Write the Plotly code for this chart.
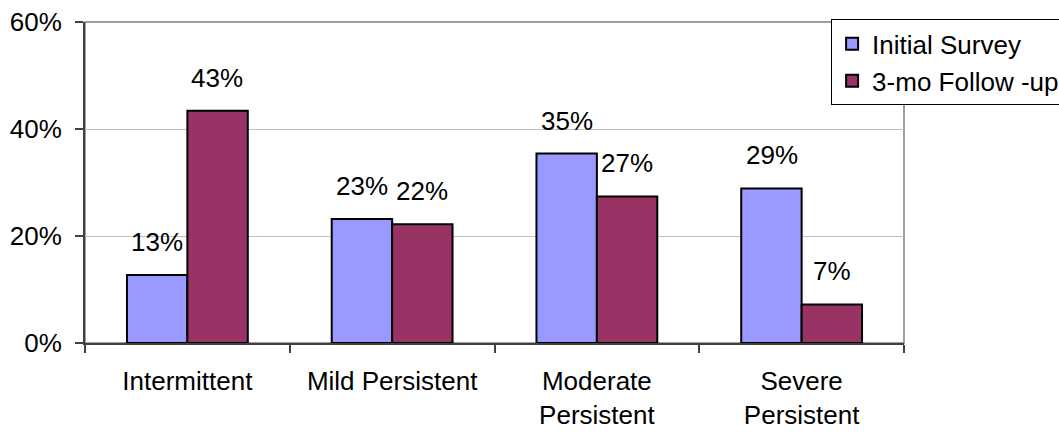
import plotly.graph_objects as go

categories = ["Intermittent", "Mild Persistent", "Moderate<br>Persistent", "Severe<br>Persistent"]
initial_survey = [12.7, 23.2, 35.4, 28.9]
follow_up = [43.4, 22.2, 27.4, 7.2]
series_names = ["Initial Survey", "3-mo Follow -up"]
y_ticks = [0, 20, 40, 60]
y_tick_labels = ["0%", "20%", "40%", "60%"]

FONT = "Liberation Sans, Arial, sans-serif"
FS = 26

fig = go.Figure()
fig.add_trace(go.Bar(x=categories, y=initial_survey, name=series_names[0],
                     marker=dict(color="#9999FF", line=dict(color="black", width=2))))
fig.add_trace(go.Bar(x=categories, y=follow_up, name=series_names[1],
                     marker=dict(color="#993366", line=dict(color="black", width=2))))

for vals, shift in ((initial_survey, -30), (follow_up, 30)):
    for c, v in zip(categories, vals):
        fig.add_annotation(x=c, y=v, text=f"{round(v)}%", showarrow=False,
                           xshift=shift, yshift=33, yanchor="middle",
                           font=dict(family=FONT, size=FS, color="black"))

fig.add_shape(type="rect", xref="paper", yref="paper", x0=0, y0=0, x1=1, y1=1,
              line=dict(color="#808080", width=1.5), layer="below")

fig.update_layout(
    width=1059, height=432,
    margin=dict(l=85, r=155, t=22, b=89, autoexpand=False),
    paper_bgcolor="white", plot_bgcolor="white",
    font=dict(family=FONT, size=FS, color="black"),
    barmode="group", bargap=0.41, bargroupgap=0,
    showlegend=True,
    legend=dict(x=0.911, xanchor="left", y=1.008, yanchor="top",
                bgcolor="white", bordercolor="#000000", borderwidth=1,
                font=dict(family=FONT, size=FS), itemwidth=30),
    xaxis=dict(showline=True, linecolor="#404040", linewidth=2,
               ticks="outside", tickson="boundaries", ticklen=8, tickcolor="#404040",
               tickwidth=1.5, showgrid=False, tickfont=dict(size=FS),
               ticklabelstandoff=14),
    yaxis=dict(range=[0, 60], tickvals=y_ticks, ticktext=y_tick_labels,
               showline=True, linecolor="#404040", linewidth=2,
               ticks="outside", ticklen=8, tickcolor="#404040", tickwidth=1.5,
               showgrid=True, gridcolor="#C0C0C0", gridwidth=1, zeroline=False,
               tickfont=dict(size=FS), ticklabelstandoff=8),
)

fig.write_html("out.html")
